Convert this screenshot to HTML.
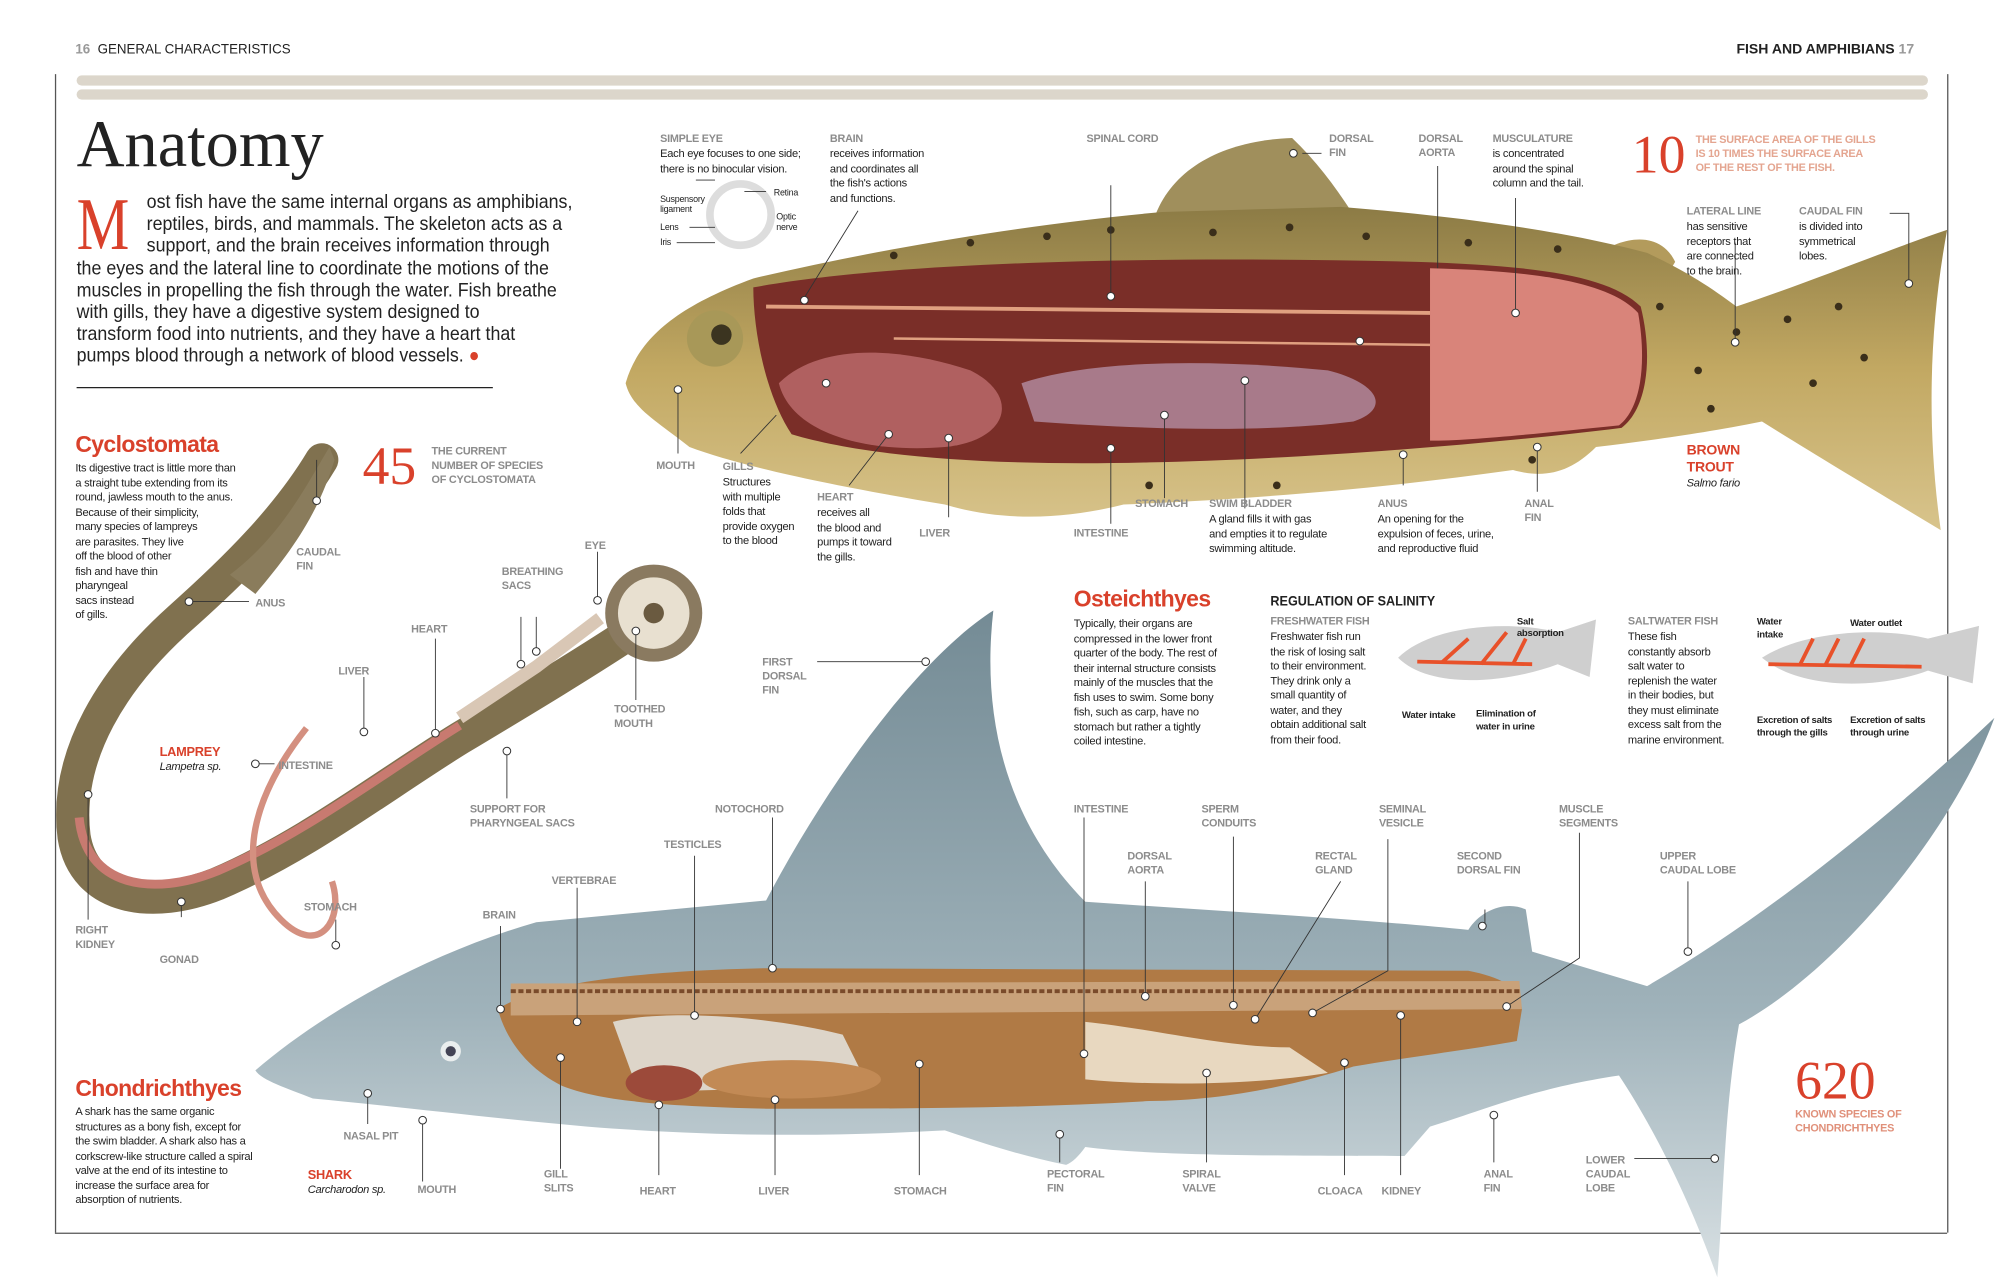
<!DOCTYPE html>
<html><head><meta charset="utf-8"><style>
html,body{margin:0;padding:0;background:#fff;}
body{width:2002px;height:1285px;overflow:hidden;position:relative;}
#w{position:absolute;left:0;top:0;width:1568px;height:1006px;transform:scale(1.2768,1.2773);transform-origin:0 0;font-family:"Liberation Sans",sans-serif;color:#222;}
.a{position:absolute;}
.l{position:absolute;font-weight:bold;font-size:8.5px;color:#8c8c8c;line-height:11px;text-transform:uppercase;letter-spacing:-0.2px;}
.d{position:absolute;font-size:8.7px;line-height:11.5px;color:#222;letter-spacing:-0.2px;}
.r{color:#d9412b;}
h2{position:absolute;margin:0;font-size:18px;font-weight:bold;color:#d9412b;font-family:"Liberation Sans",sans-serif;letter-spacing:-0.5px;}
.big{position:absolute;font-family:"Liberation Serif",serif;color:#d9412b;font-size:42px;line-height:42px;}
#intro{position:absolute;left:60px;top:150px;font-size:15px;line-height:17.2px;transform:scaleX(0.93);transform-origin:0 0;white-space:nowrap;}
#intro div.i{padding-left:59px;}
</style></head><body><div id="w">
<svg class="a" style="left:0;top:0" width="1568" height="1006" viewBox="0 0 1568 1006">
<defs>
<linearGradient id="sh" x1="0" y1="0" x2="0" y2="1"><stop offset="0" stop-color="#748b95"/><stop offset="0.6" stop-color="#9fb2ba"/><stop offset="1" stop-color="#d8e0e3"/></linearGradient>
<linearGradient id="tr" x1="0" y1="0" x2="0" y2="1"><stop offset="0" stop-color="#8c7b45"/><stop offset="0.5" stop-color="#c2a862"/><stop offset="1" stop-color="#d8c48c"/></linearGradient>
</defs>
<rect x="60" y="59" width="1450" height="8" rx="4" fill="#dcd6cb"/>
<rect x="60" y="70" width="1450" height="8" rx="4" fill="#dcd6cb"/>
<line x1="43.5" y1="58" x2="43.5" y2="965" stroke="#555" stroke-width="1"/>
<line x1="43" y1="965.5" x2="1525" y2="965.5" stroke="#555" stroke-width="1"/>
<line x1="1525.5" y1="58" x2="1525.5" y2="965" stroke="#555" stroke-width="1"/>
<line x1="60" y1="303.5" x2="386" y2="303.5" stroke="#222" stroke-width="1"/>
<!-- shark -->
<path d="M200,838 C250,795 330,748 420,722 L600,705 C650,610 720,515 778,478 C768,565 790,645 850,706 L1000,716 C1060,720 1110,724 1150,728 C1160,712 1180,705 1195,712 L1200,745 L1290,772 C1380,720 1480,640 1562,562 C1530,650 1440,760 1362,802 C1350,870 1350,940 1345,1000 C1320,930 1290,875 1268,842 C1200,852 1160,870 1120,882 L1100,905 C1020,905 900,905 850,898 C845,905 840,910 835,912 C800,905 770,895 740,885 C650,890 560,890 460,882 C380,875 300,865 245,860 C225,852 205,846 200,838 Z" fill="url(#sh)"/>
<path d="M390,790 C420,770 500,760 600,758 L1150,760 C1175,765 1190,772 1192,790 L1188,815 C1150,822 1100,828 1060,835 C1020,848 960,862 900,862 C800,868 700,868 600,868 C520,866 470,862 440,850 C410,835 395,810 390,790 Z" fill="#b07a45"/>
<path d="M400,770 L1190,768 L1192,790 L400,795 Z" fill="#c9a27a"/>
<path d="M400,776 L1190,776" stroke="#7a4b2b" stroke-width="3" stroke-dasharray="4 2"/>
<path d="M480,800 C520,790 600,795 660,810 L680,850 L500,855 Z" fill="#ddd5c9"/>
<path d="M850,800 C900,805 960,820 1010,820 L1040,840 C980,850 900,850 850,845 Z" fill="#e8d8c0"/>
<ellipse cx="520" cy="848" rx="30" ry="14" fill="#9c4a3a"/>
<ellipse cx="620" cy="845" rx="70" ry="15" fill="#c28a55"/>
<circle cx="353" cy="823" r="8" fill="#eaeeee"/><circle cx="353" cy="823" r="4" fill="#445"/>
<!-- trout -->
<path d="M905,168 C920,130 960,110 1012,108 C1030,125 1045,145 1058,165 Z" fill="#a08f5c"/>
<path d="M1250,200 C1270,185 1300,180 1312,205 L1300,225 Z" fill="#b39b5c"/>
<path d="M490,300 C500,265 530,240 590,218 C700,192 820,174 910,166 L1050,162 C1150,170 1230,182 1290,198 C1320,212 1340,225 1360,240 C1420,220 1480,195 1525,180 C1512,250 1508,330 1520,415 C1470,385 1420,355 1380,330 C1330,340 1290,345 1250,350 C1230,370 1210,375 1185,368 C1100,380 1000,390 880,395 C840,405 790,410 740,395 C650,380 580,365 540,350 C515,330 495,320 490,300 Z" fill="url(#tr)"/>
<path d="M590,225 C700,205 900,200 1110,205 C1200,208 1260,215 1285,240 C1295,280 1290,320 1270,335 C1150,350 1000,360 900,362 C780,365 680,358 620,340 C600,310 590,260 590,225 Z" fill="#7a2e28"/>
<path d="M1120,210 C1200,212 1260,220 1283,245 C1290,285 1285,320 1268,333 C1200,340 1150,345 1120,345 Z" fill="#d9847a"/>
<path d="M610,300 C640,270 700,270 760,290 C800,310 790,345 740,350 C680,355 620,340 610,300 Z" fill="#b06060"/>
<path d="M800,300 C860,280 960,282 1040,290 C1080,300 1090,320 1060,330 C980,340 880,335 810,330 Z" fill="#a87a8a"/>
<path d="M600,240 L1120,245" stroke="#e0a080" stroke-width="3"/>
<path d="M700,265 L1120,270" stroke="#e0a080" stroke-width="2"/>
<circle cx="560" cy="265" r="22" fill="#a89858"/><circle cx="565" cy="262" r="8" fill="#3b3420"/>
<g fill="#3a2e1a">
<circle cx="700" cy="200" r="3"/><circle cx="760" cy="190" r="3"/><circle cx="820" cy="185" r="3"/><circle cx="870" cy="180" r="3"/><circle cx="950" cy="182" r="3"/><circle cx="1010" cy="178" r="3"/><circle cx="1070" cy="185" r="3"/><circle cx="1150" cy="190" r="3"/><circle cx="1220" cy="195" r="3"/><circle cx="1300" cy="240" r="3"/><circle cx="1330" cy="290" r="3"/><circle cx="1360" cy="260" r="3"/><circle cx="1400" cy="250" r="3"/><circle cx="1440" cy="240" r="3"/><circle cx="1420" cy="300" r="3"/><circle cx="1460" cy="280" r="3"/><circle cx="1340" cy="320" r="3"/><circle cx="1000" cy="380" r="3"/><circle cx="900" cy="380" r="3"/><circle cx="1200" cy="360" r="3"/>
</g>
<!-- lamprey -->
<path d="M252,360 C225,405 185,445 140,485 C90,530 50,590 58,655 C66,705 120,712 170,692 C240,662 300,615 360,578 C410,548 460,518 505,488" fill="none" stroke="#80714f" stroke-width="26" stroke-linecap="round"/>
<path d="M258,350 C240,380 220,420 180,450 L200,465 C230,430 250,400 262,360 Z" fill="#8a7c5c"/>
<path d="M62,640 C67,695 120,702 170,682 C240,652 300,605 360,568" fill="none" stroke="#c87a70" stroke-width="7"/>
<path d="M240,570 C200,620 180,680 220,720 C250,750 270,720 260,690" fill="none" stroke="#d49080" stroke-width="5"/>
<path d="M360,562 L420,522 L470,484" stroke="#d9c7b5" stroke-width="10" fill="none"/>
<circle cx="512" cy="480" r="38" fill="#8a7a60"/><circle cx="512" cy="480" r="28" fill="#e8e0d0"/><circle cx="512" cy="480" r="8" fill="#6a5a40"/>
<!-- salinity fish -->
<path d="M1095,515 C1120,490 1180,485 1220,495 L1250,485 L1245,530 L1220,520 C1180,535 1120,540 1095,515 Z" fill="#cfcfcf"/>
<path d="M1110,518 L1200,520 M1130,518 L1150,500 M1160,520 L1180,495 M1185,520 L1195,500" stroke="#e8512a" stroke-width="3" fill="none"/>
<path d="M1380,515 C1410,495 1470,490 1510,500 L1550,490 L1545,535 L1510,525 C1470,540 1410,540 1380,515 Z" fill="#cfcfcf"/>
<path d="M1385,520 L1505,522 M1410,520 L1420,500 M1430,520 L1440,500 M1450,520 L1460,500" stroke="#e8512a" stroke-width="3" fill="none"/>
<!-- eye diagram -->
<circle cx="580" cy="168" r="24" fill="none" stroke="#ddd" stroke-width="6"/>
<g stroke="#333" stroke-width="0.7" fill="none">
<path d="M870,145 V232 M1020,120 H1035 M1126,130 V210 M1187,155 V245 M1359,190 V268 M1480,167 H1495 V222 M630,233 L672,165 M531,305 V355 M608,325 L580,355 M696,340 L665,380 M743,343 V405 M870,351 V410 M912,325 V390 M975,298 V398 M1099,356 V380 M1204,350 V385 M640,518 H725 M1163,712 V725 M1322,690 V745 M897,690 V780 M966,655 V787 M1050,690 L983,798 M1087,657 V760 L1028,793 M1237,652 V750 L1180,788 M849,640 V825 M1097,795 V920 M1053,832 V920 M945,840 V910 M830,888 V910 M720,833 V920 M607,861 V920 M516,865 V920 M439,828 V915 M605,640 V760 M544,670 V795 M452,695 V800 M392,725 V790 M288,856 V880 M331,877 V925 M1170,873 V910 M1280,907 H1343 M248,360 V390 M148,471 H195 M200,598 H215 M69,622 V720 M142,706 V718 M263,740 V720 M285,530 V572 M341,500 V572 M408,483 V520 M420,483 V510 M468,432 V470 M498,494 V548 M397,588 V625 M560,141 H545 M583,150 H600 M560,178 H540 M560,190 H530"/>
</g>
<g fill="#fff" stroke="#333" stroke-width="0.8">
<circle cx="870" cy="232" r="3"/><circle cx="1013" cy="120" r="3"/><circle cx="1065" cy="267" r="3"/><circle cx="1187" cy="245" r="3"/><circle cx="1359" cy="268" r="3"/><circle cx="1495" cy="222" r="3"/><circle cx="630" cy="235" r="3"/><circle cx="531" cy="305" r="3"/><circle cx="647" cy="300" r="3"/><circle cx="696" cy="340" r="3"/><circle cx="743" cy="343" r="3"/><circle cx="870" cy="351" r="3"/><circle cx="912" cy="325" r="3"/><circle cx="975" cy="298" r="3"/><circle cx="1099" cy="356" r="3"/><circle cx="1204" cy="350" r="3"/>
<circle cx="725" cy="518" r="3"/><circle cx="1161" cy="725" r="3"/><circle cx="1322" cy="745" r="3"/><circle cx="897" cy="780" r="3"/><circle cx="966" cy="787" r="3"/><circle cx="983" cy="798" r="3"/><circle cx="1028" cy="793" r="3"/><circle cx="1180" cy="788" r="3"/><circle cx="849" cy="825" r="3"/><circle cx="1097" cy="795" r="3"/><circle cx="1053" cy="832" r="3"/><circle cx="945" cy="840" r="3"/><circle cx="830" cy="888" r="3"/><circle cx="720" cy="833" r="3"/><circle cx="607" cy="861" r="3"/><circle cx="516" cy="865" r="3"/><circle cx="439" cy="828" r="3"/><circle cx="605" cy="758" r="3"/><circle cx="544" cy="795" r="3"/><circle cx="452" cy="800" r="3"/><circle cx="392" cy="790" r="3"/><circle cx="288" cy="856" r="3"/><circle cx="331" cy="877" r="3"/><circle cx="1170" cy="873" r="3"/><circle cx="1343" cy="907" r="3"/>
<circle cx="248" cy="392" r="3"/><circle cx="148" cy="471" r="3"/><circle cx="200" cy="598" r="3"/><circle cx="69" cy="622" r="3"/><circle cx="142" cy="706" r="3"/><circle cx="263" cy="740" r="3"/><circle cx="285" cy="573" r="3"/><circle cx="341" cy="574" r="3"/><circle cx="408" cy="520" r="3"/><circle cx="420" cy="510" r="3"/><circle cx="468" cy="470" r="3"/><circle cx="498" cy="494" r="3"/><circle cx="397" cy="588" r="3"/>
</g>
</svg>

<div class="a" style="left:59px;top:33px;font-size:11px;transform:scaleX(0.95);transform-origin:0 0"><b style="color:#999">16</b>&nbsp; GENERAL CHARACTERISTICS</div>
<div class="a" style="left:1360px;top:33px;font-size:11px;font-weight:bold;">FISH AND AMPHIBIANS <span style="color:#999">17</span></div>
<div class="a" style="left:60px;top:84px;font-family:'Liberation Serif',serif;font-size:52px;line-height:60px;">Anatomy</div>
<div class="a" style="left:60px;top:147px;font-family:'Liberation Serif',serif;font-size:58px;line-height:58px;color:#d9412b;transform:scaleX(0.8);transform-origin:0 0">M</div>
<div id="intro">
<div class="i">ost fish have the same internal organs as amphibians,</div>
<div class="i">reptiles, birds, and mammals. The skeleton acts as a</div>
<div class="i">support, and the brain receives information through</div>
<div>the eyes and the lateral line to coordinate the motions of the</div>
<div>muscles in propelling the fish through the water. Fish breathe</div>
<div>with gills, they have a digestive system designed to</div>
<div>transform food into nutrients, and they have a heart that</div>
<div>pumps blood through a network of blood vessels. <span class="r">●</span></div>
</div>

<div class="l" style="left:517px;top:103px">Simple eye</div>
<div class="d" style="left:517px;top:115px">Each eye focuses to one side;<br>there is no binocular vision.</div>
<div class="d" style="left:517px;top:153px;font-size:7px;line-height:8px">Suspensory<br>ligament</div>
<div class="d" style="left:517px;top:173px;font-size:7px">Lens</div><div class="d" style="left:517px;top:185px;font-size:7px">Iris</div>
<div class="d" style="left:606px;top:146px;font-size:7px">Retina</div>
<div class="d" style="left:608px;top:167px;font-size:7px;line-height:8px">Optic<br>nerve</div>
<div class="l" style="left:650px;top:103px">Brain</div>
<div class="d" style="left:650px;top:115px">receives information<br>and coordinates all<br>the fish's actions<br>and functions.</div>
<div class="l" style="left:851px;top:103px">Spinal cord</div>
<div class="l" style="left:1041px;top:103px">Dorsal<br>fin</div>
<div class="l" style="left:1111px;top:103px">Dorsal<br>aorta</div>
<div class="l" style="left:1169px;top:103px">Musculature</div>
<div class="d" style="left:1169px;top:115px">is concentrated<br>around the spinal<br>column and the tail.</div>
<div class="big" style="left:1278px;top:101px">10</div>
<div class="l" style="left:1328px;top:104px;color:#e4a590">The surface area of the gills<br>is 10 times the surface area<br>of the rest of the fish.</div>
<div class="l" style="left:1321px;top:160px">Lateral line</div>
<div class="d" style="left:1321px;top:172px">has sensitive<br>receptors that<br>are connected<br>to the brain.</div>
<div class="l" style="left:1409px;top:160px">Caudal fin</div>
<div class="d" style="left:1409px;top:172px">is divided into<br>symmetrical<br>lobes.</div>
<div class="l" style="left:1321px;top:347px;font-size:11px;line-height:13px;color:#d9412b">Brown<br>trout</div>
<div class="d" style="left:1321px;top:373px;font-style:italic">Salmo fario</div>
<div class="l" style="left:514px;top:359px">Mouth</div>
<div class="l" style="left:566px;top:360px">Gills</div>
<div class="d" style="left:566px;top:372px">Structures<br>with multiple<br>folds that<br>provide oxygen<br>to the blood</div>
<div class="l" style="left:640px;top:384px">Heart</div>
<div class="d" style="left:640px;top:396px">receives all<br>the blood and<br>pumps it toward<br>the gills.</div>
<div class="l" style="left:720px;top:412px">Liver</div>
<div class="l" style="left:841px;top:412px">Intestine</div>
<div class="l" style="left:889px;top:389px">Stomach</div>
<div class="l" style="left:947px;top:389px">Swim bladder</div>
<div class="d" style="left:947px;top:401px">A gland fills it with gas<br>and empties it to regulate<br>swimming altitude.</div>
<div class="l" style="left:1079px;top:389px">Anus</div>
<div class="d" style="left:1079px;top:401px">An opening for the<br>expulsion of feces, urine,<br>and reproductive fluid</div>
<div class="l" style="left:1194px;top:389px">Anal<br>fin</div>

<h2 style="left:59px;top:338px">Cyclostomata</h2>
<div class="d" style="left:59px;top:361px">Its digestive tract is little more than<br>a straight tube extending from its<br>round, jawless mouth to the anus.<br>Because of their simplicity,<br>many species of lampreys<br>are parasites. They live<br>off the blood of other<br>fish and have thin<br>pharyngeal<br>sacs instead<br>of gills.</div>
<div class="big" style="left:284px;top:345px">45</div>
<div class="l" style="left:338px;top:348px">The current<br>number of species<br>of cyclostomata</div>
<div class="l" style="left:232px;top:427px">Caudal<br>fin</div>
<div class="l" style="left:200px;top:467px">Anus</div>
<div class="l" style="left:393px;top:442px">Breathing<br>sacs</div>
<div class="l" style="left:458px;top:422px">Eye</div>
<div class="l" style="left:322px;top:487px">Heart</div>
<div class="l" style="left:265px;top:520px">Liver</div>
<div class="l" style="left:481px;top:550px">Toothed<br>mouth</div>
<div class="l" style="left:125px;top:584px;color:#d9412b;font-size:10px">Lamprey</div>
<div class="d" style="left:125px;top:595px;font-style:italic">Lampetra sp.</div>
<div class="l" style="left:218px;top:594px">Intestine</div>
<div class="l" style="left:368px;top:628px">Support for<br>pharyngeal sacs</div>
<div class="l" style="left:238px;top:705px">Stomach</div>
<div class="l" style="left:59px;top:723px">Right<br>kidney</div>
<div class="l" style="left:125px;top:746px">Gonad</div>
<div class="l" style="left:597px;top:513px">First<br>dorsal<br>fin</div>

<h2 style="left:841px;top:459px">Osteichthyes</h2>
<div class="d" style="left:841px;top:483px">Typically, their organs are<br>compressed in the lower front<br>quarter of the body. The rest of<br>their internal structure consists<br>mainly of the muscles that the<br>fish uses to swim. Some bony<br>fish, such as carp, have no<br>stomach but rather a tightly<br>coiled intestine.</div>
<div class="a" style="left:995px;top:465px;font-weight:bold;font-size:11px;transform:scaleX(0.9);transform-origin:0 0">REGULATION OF SALINITY</div>
<div class="l" style="left:995px;top:481px">Freshwater fish</div>
<div class="d" style="left:995px;top:493px">Freshwater fish run<br>the risk of losing salt<br>to their environment.<br>They drink only a<br>small quantity of<br>water, and they<br>obtain additional salt<br>from their food.</div>
<div class="d" style="left:1188px;top:482px;font-size:7.5px;line-height:9px;font-weight:bold">Salt<br>absorption</div>
<div class="d" style="left:1098px;top:554px;font-size:7.5px;font-weight:bold">Water intake</div>
<div class="d" style="left:1156px;top:554px;font-size:7.5px;line-height:10px;font-weight:bold">Elimination of<br>water in urine</div>
<div class="l" style="left:1275px;top:481px">Saltwater fish</div>
<div class="d" style="left:1275px;top:493px">These fish<br>constantly absorb<br>salt water to<br>replenish the water<br>in their bodies, but<br>they must eliminate<br>excess salt from the<br>marine environment.</div>
<div class="d" style="left:1376px;top:482px;font-size:7.5px;line-height:10px;font-weight:bold">Water<br>intake</div>
<div class="d" style="left:1449px;top:482px;font-size:7.5px;font-weight:bold">Water outlet</div>
<div class="d" style="left:1376px;top:559px;font-size:7.5px;line-height:10px;font-weight:bold">Excretion of salts<br>through the gills</div>
<div class="d" style="left:1449px;top:559px;font-size:7.5px;line-height:10px;font-weight:bold">Excretion of salts<br>through urine</div>

<div class="l" style="left:560px;top:628px">Notochord</div>
<div class="l" style="left:520px;top:656px">Testicles</div>
<div class="l" style="left:432px;top:684px">Vertebrae</div>
<div class="l" style="left:378px;top:711px">Brain</div>
<div class="l" style="left:841px;top:628px">Intestine</div>
<div class="l" style="left:941px;top:628px">Sperm<br>conduits</div>
<div class="l" style="left:1080px;top:628px">Seminal<br>vesicle</div>
<div class="l" style="left:1221px;top:628px">Muscle<br>segments</div>
<div class="l" style="left:883px;top:665px">Dorsal<br>aorta</div>
<div class="l" style="left:1030px;top:665px">Rectal<br>gland</div>
<div class="l" style="left:1141px;top:665px">Second<br>dorsal fin</div>
<div class="l" style="left:1300px;top:665px">Upper<br>caudal lobe</div>
<h2 style="left:59px;top:842px">Chondrichthyes</h2>
<div class="d" style="left:59px;top:865px">A shark has the same organic<br>structures as a bony fish, except for<br>the swim bladder. A shark also has a<br>corkscrew-like structure called a spiral<br>valve at the end of its intestine to<br>increase the surface area for<br>absorption of nutrients.</div>
<div class="l" style="left:241px;top:915px;color:#d9412b;font-size:10px">Shark</div>
<div class="d" style="left:241px;top:926px;font-style:italic">Carcharodon sp.</div>
<div class="l" style="left:269px;top:884px">Nasal pit</div>
<div class="l" style="left:327px;top:926px">Mouth</div>
<div class="l" style="left:426px;top:914px">Gill<br>slits</div>
<div class="l" style="left:501px;top:927px">Heart</div>
<div class="l" style="left:594px;top:927px">Liver</div>
<div class="l" style="left:700px;top:927px">Stomach</div>
<div class="l" style="left:820px;top:914px">Pectoral<br>fin</div>
<div class="l" style="left:926px;top:914px">Spiral<br>valve</div>
<div class="l" style="left:1032px;top:927px">Cloaca</div>
<div class="l" style="left:1082px;top:927px">Kidney</div>
<div class="l" style="left:1162px;top:914px">Anal<br>fin</div>
<div class="l" style="left:1242px;top:903px">Lower<br>caudal<br>lobe</div>
<div class="big" style="left:1406px;top:826px">620</div>
<div class="l" style="left:1406px;top:867px;color:#e0907a">Known species of<br>chondrichthyes</div>
</div></body></html>
